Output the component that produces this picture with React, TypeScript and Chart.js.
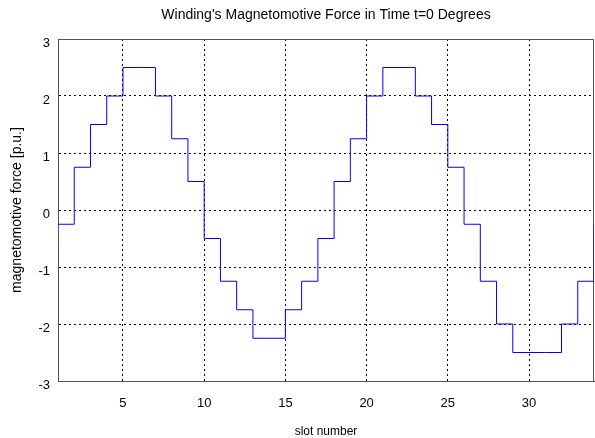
import React, { useEffect, useRef } from "react";
import { Chart, registerables } from "chart.js";

Chart.register(...registerables);

// slot numbers and the per-unit MMF level that holds from each slot to the next
const slots: number[] = [
  1, 2, 3, 4, 5, 6, 7, 8, 9, 10, 11, 12, 13, 14, 15, 16, 17,
  18, 19, 20, 21, 22, 23, 24, 25, 26, 27, 28, 29, 30, 31, 32, 33, 34,
];
const mmf: number[] = [
  -0.25, 0.75, 1.5, 2, 2.5, 2.5, 2, 1.25, 0.5, -0.5, -1.25, -1.75, -2.25, -2.25, -1.75, -1.25, -0.5,
  0.5, 1.25, 2, 2.5, 2.5, 2, 1.5, 0.75, -0.25, -1.25, -2, -2.5, -2.5, -2.5, -2, -1.25, -0.25,
];
const xTicks: number[] = [5, 10, 15, 20, 25, 30];
const yTicks: number[] = [-3, -2, -1, 0, 1, 2, 3];

const titleText = "Winding's Magnetomotive Force in Time t=0 Degrees";
const xTitle = "slot number";
const yTitle = "magnetomotive force [p.u.]";

const FONT = "'Liberation Sans', Arial, Helvetica, sans-serif";

// solid box around the plotting area
const framePlugin = {
  id: "frame",
  beforeDatasetsDraw(chart: any) {
    const { ctx, chartArea } = chart;
    const { left, top, right, bottom } = chartArea;
    ctx.save();
    ctx.strokeStyle = "#555";
    ctx.lineWidth = 1;
    ctx.setLineDash([]);
    ctx.strokeRect(Math.round(left) + 0.5, Math.round(top) + 0.5, Math.round(right - left) - 1, Math.round(bottom - top));
    ctx.restore();
  },
};

export default function App() {
  const canvasRef = useRef<HTMLCanvasElement | null>(null);

  useEffect(() => {
    const canvas = canvasRef.current;
    if (!canvas) return;
    const gridDash = [2, 3];
    const chart = new Chart(canvas, {
      type: "line",
      data: {
        datasets: [
          {
            data: slots.map((s, i) => ({ x: s, y: mmf[i] })),
            borderColor: "#0000ff",
            borderWidth: 1,
            pointRadius: 0,
            stepped: "before",
            fill: false,
          },
        ],
      },
      options: {
        animation: false,
        responsive: false,
        devicePixelRatio: 1,
        layout: { padding: { left: 0, right: 1, top: 0, bottom: 0 } },
        plugins: {
          legend: { display: false },
          tooltip: { enabled: false },
          title: {
            display: true,
            text: titleText,
            fullSize: false,
            color: "#000",
            font: { family: FONT, size: 14, weight: "normal", lineHeight: 1.2 },
            padding: { top: 7, bottom: 15.2 },
          },
        },
        scales: {
          x: {
            type: "linear",
            min: 1,
            max: 34,
            afterBuildTicks: (scale: any) => {
              scale.ticks = xTicks.map((v) => ({ value: v }));
            },
            afterFit: (scale: any) => {
              scale.height = 57;
            },
            grid: { color: "#000", lineWidth: 1, drawTicks: false },
            border: { display: true, color: "#555", dash: gridDash },
            ticks: {
              color: "#000",
              padding: 15,
              maxRotation: 0,
              font: { family: FONT, size: 13 },
            },
            title: {
              display: true,
              text: xTitle,
              color: "#000",
              font: { family: FONT, size: 12, lineHeight: 1 },
              padding: { top: 0, bottom: 0 },
            },
          },
          y: {
            type: "linear",
            min: -3,
            max: 3,
            afterBuildTicks: (scale: any) => {
              scale.ticks = yTicks.map((v) => ({ value: v }));
            },
            afterFit: (scale: any) => {
              scale.width = 58;
            },
            grid: { color: "#000", lineWidth: 1, drawTicks: false },
            border: { display: true, color: "#555", dash: gridDash },
            ticks: {
              color: "#000",
              padding: 8,
              labelOffset: 4,
              font: { family: FONT, size: 13 },
            },
            title: {
              display: true,
              text: yTitle,
              color: "#000",
              font: { family: FONT, size: 14, lineHeight: 1.2 },
              padding: { top: 8.6, bottom: 0 },
            },
          },
        },
      },
      plugins: [framePlugin],
    } as any);
    return () => chart.destroy();
  }, []);

  return (
    <div style={{ position: "fixed", left: 0, top: 0, width: 595, height: 438, background: "#fff" }}>
      <canvas ref={canvasRef} width={595} height={438} style={{ display: "block" }} />
    </div>
  );
}
